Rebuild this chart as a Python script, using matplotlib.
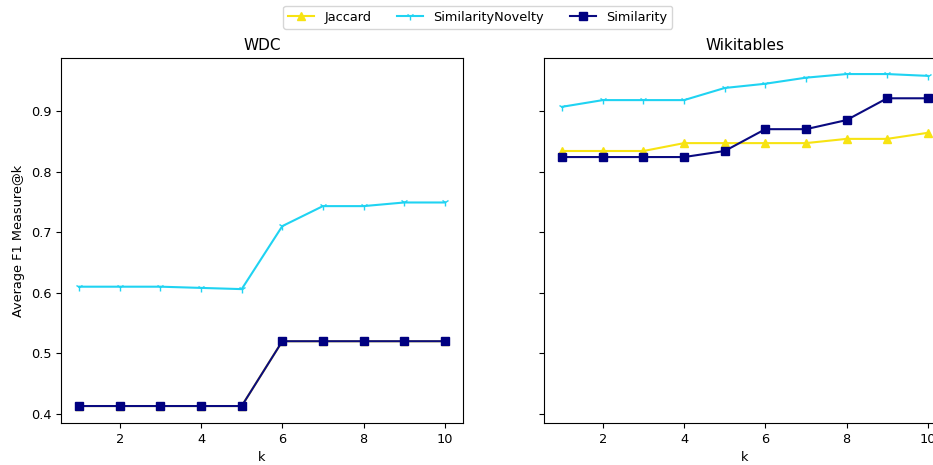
import numpy as np
import matplotlib.pyplot as plt

# Datos
k = [1, 2, 3, 4, 5, 6, 7, 8, 9, 10]

wdc_jaccard = [0.413, 0.413, 0.413, 0.413, 0.413, 0.52, 0.52, 0.52, 0.52, 0.52]
wdc_sim_novelty = [0.61, 0.61, 0.61, 0.608, 0.606, 0.71, 0.743, 0.743, 0.749, 0.749]
wdc_similarity = [0.413, 0.413, 0.413, 0.413, 0.413, 0.52, 0.52, 0.52, 0.52, 0.52]

wiki_jaccard = [0.834, 0.834, 0.834, 0.847, 0.847, 0.847, 0.847, 0.854, 0.854, 0.864]
wiki_sim_novelty = [0.907, 0.918, 0.918, 0.918, 0.938, 0.945, 0.955, 0.961, 0.961, 0.958]
wiki_similarity = [0.824, 0.824, 0.824, 0.824, 0.834, 0.870, 0.870, 0.885, 0.921, 0.921]

titles = ['WDC', 'Wikitables']


def main():
    plt.rcParams['font.size'] = 9.3
    plt.rcParams['axes.titlesize'] = 11

    fig = plt.figure(figsize=(9.33, 4.65), dpi=100)
    ax1 = fig.add_axes([61 / 933, 42 / 465, 402 / 933, 365 / 465])
    ax2 = fig.add_axes([544 / 933, 42 / 465, 402 / 933, 365 / 465], sharey=ax1)

    data = [(wdc_jaccard, wdc_sim_novelty, wdc_similarity),
            (wiki_jaccard, wiki_sim_novelty, wiki_similarity)]

    for ax, title, (jac, nov, sim) in zip([ax1, ax2], titles, data):
        ax.plot(k, jac, marker='^', color='#f7e312', label='Jaccard')
        ax.plot(k, nov, marker='1', color='#1fd3f2', label='SimilarityNovelty')
        ax.plot(k, sim, marker='s', color='#0a0a80', markerfacecolor='#000080',
                markeredgecolor='#000080', label='Similarity')
        ax.set_title(title)
        ax.set_xlabel('k')
        ax.set_xticks([2, 4, 6, 8, 10])

    ax1.set_ylim(0.385, 0.9875)
    ax1.set_ylabel('Average F1 Measure@k')
    plt.setp(ax2.get_yticklabels(), visible=False)

    handles, labels = ax1.get_legend_handles_labels()
    fig.legend(handles, labels, loc='upper center', ncol=3,
               bbox_to_anchor=(0.512, 1.002))

    plt.savefig('out.png')
    plt.close()


if __name__ == "__main__":
    main()
